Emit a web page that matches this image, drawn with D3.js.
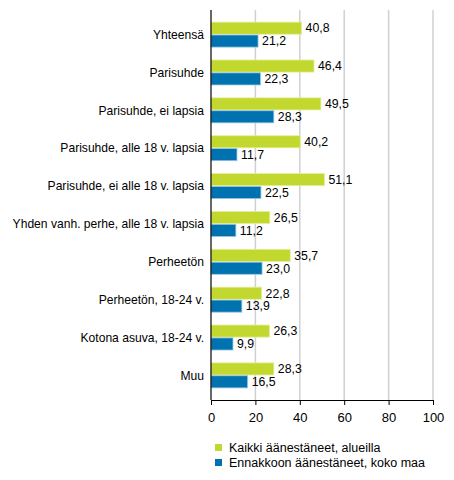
<!DOCTYPE html>
<html>
<head>
<meta charset="utf-8">
<script src="https://cdn.jsdelivr.net/npm/d3@7"></script>
<style>
  body { margin: 0; background: #fff; }
  svg { font-family: "Liberation Sans", Arial, sans-serif; }
</style>
</head>
<body>
<div id="chart"></div>
<script>
// Data
const categories = [
  'Yhteensä', 'Parisuhde', 'Parisuhde, ei lapsia', 'Parisuhde, alle 18 v. lapsia',
  'Parisuhde, ei alle 18 v. lapsia', 'Yhden vanh. perhe, alle 18 v. lapsia',
  'Perheetön', 'Perheetön, 18-24 v.', 'Kotona asuva, 18-24 v.', 'Muu'
];
const seriesNames = ['Kaikki äänestäneet, alueilla', 'Ennakkoon äänestäneet, koko maa'];
const allVoters = [40.8, 46.4, 49.5, 40.2, 51.1, 26.5, 35.7, 22.8, 26.3, 28.3];
const advanceVoters = [21.2, 22.3, 28.3, 11.7, 22.5, 11.2, 23.0, 13.9, 9.9, 16.5];
const xTicks = [0, 20, 40, 60, 80, 100];
const colors = ['#c2d82e', '#0072b0'];

const width = 454, height = 480;
const margin = { top: 10, right: 21, bottom: 80, left: 211 };

const svg = d3.select('#chart').append('svg')
  .attr('width', width)
  .attr('height', height);

const x = d3.scaleLinear().domain([0, 100]).range([margin.left, width - margin.right]);
const y = d3.scaleBand().domain(categories)
  .range([margin.top, height - margin.bottom])
  .paddingOuter(0.15).paddingInner(0);
const sub = d3.scaleBand().domain([0, 1]).range([-12.5, 12.5]).paddingInner(0.06);

// gridlines
svg.append('g').selectAll('line')
  .data(xTicks.filter(d => d > 0))
  .join('line')
  .attr('x1', d => x(d)).attr('x2', d => x(d))
  .attr('y1', margin.top).attr('y2', height - margin.bottom)
  .attr('stroke', '#d0d0d0').attr('stroke-width', 1.5);

// bars
const series = [allVoters, advanceVoters];
series.forEach((vals, si) => {
  const g = svg.append('g');
  const cy = d => y(categories[d]) + y.bandwidth() / 2 + sub(si);
  g.selectAll('rect')
    .data(vals.map((v, i) => i))
    .join('rect')
    .attr('x', x(0))
    .attr('y', i => cy(i))
    .attr('width', i => x(vals[i]) - x(0))
    .attr('height', sub.bandwidth())
    .attr('fill', colors[si])
    .attr('stroke', si === 0 ? '#e4efa0' : '#9cc6e0')
    .attr('stroke-width', 0.8);
  g.selectAll('text')
    .data(vals.map((v, i) => i))
    .join('text')
    .attr('x', i => x(vals[i]) + 4)
    .attr('y', i => cy(i) + sub.bandwidth() / 2)
    .attr('dy', '0.35em')
    .attr('font-size', 12.3)
    .attr('fill', '#000')
    .text(i => d3.format('.1f')(vals[i]).replace('.', ','));
});

// category labels
svg.append('g').selectAll('text')
  .data(categories)
  .join('text')
  .attr('x', margin.left - 7)
  .attr('y', d => y(d) + y.bandwidth() / 2)
  .attr('dy', '0.35em')
  .attr('text-anchor', 'end')
  .attr('font-size', 12.1)
  .text(d => d);

// y axis line
svg.append('line')
  .attr('x1', x(0)).attr('x2', x(0))
  .attr('y1', margin.top).attr('y2', height - margin.bottom)
  .attr('stroke', '#000').attr('stroke-width', 1.2);

// x axis
const xAxis = svg.append('g')
  .attr('transform', `translate(0,${height - margin.bottom})`)
  .call(d3.axisBottom(x).tickValues(xTicks).tickSize(5).tickSizeOuter(0).tickPadding(8));
xAxis.select('.domain').attr('stroke', '#000').attr('stroke-width', 1.2);
xAxis.selectAll('.tick line').attr('stroke', '#000');
xAxis.selectAll('.tick text')
  .attr('font-size', 13)
  .attr('font-family', '"Liberation Sans", Arial, sans-serif')
  .attr('fill', '#000');

// legend
const legend = svg.append('g').attr('transform', 'translate(215,444)');
seriesNames.forEach((name, i) => {
  const row = legend.append('g').attr('transform', `translate(0,${i * 15})`);
  row.append('rect').attr('x', 0).attr('y', 0).attr('width', 7).attr('height', 7).attr('fill', colors[i]);
  row.append('text').attr('x', 14).attr('y', 4).attr('dy', '0.35em')
    .attr('font-size', 12.5).text(name);
});
</script>
</body>
</html>
